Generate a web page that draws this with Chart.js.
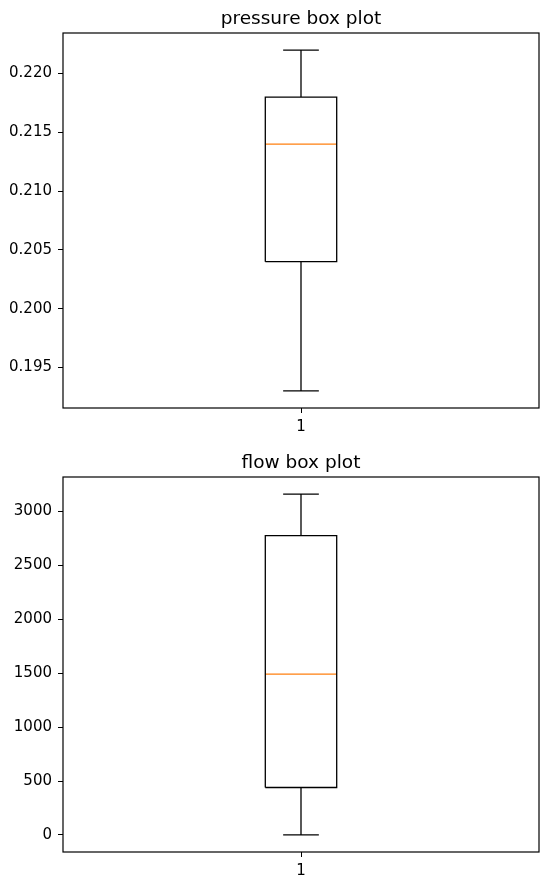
<!DOCTYPE html>
<html>
<head>
<meta charset="utf-8">
<script src="https://cdn.jsdelivr.net/npm/chart.js@4"></script>
<style>
  body { margin: 0; background: #fff; }
  .panel { position: absolute; left: 0; width: 550px; height: 441px; }
</style>
</head>
<body>
<div class="panel" style="top:0"><canvas id="pressureChart" width="550" height="441"></canvas></div>
<div class="panel" style="top:441px"><canvas id="flowChart" width="550" height="441"></canvas></div>
<script>
// box stats: [min whisker, q1, median, q3, max whisker]
const pressureStats = [0.193, 0.204, 0.214, 0.218, 0.222];
const flowStats = [0, 440, 1490, 2775, 3160];
const pressureTicks = [0.195, 0.200, 0.205, 0.210, 0.215, 0.220];
const flowTicks = [0, 500, 1000, 1500, 2000, 2500, 3000];
const xCategories = [1];

const boxWidth = 0.15;
const fontFamily = "'DejaVu Sans', sans-serif";

// frame around the plot area (matplotlib spines) + title centred over the axes
const framePlugin = {
    id: 'frame',
    afterDraw(chart, args, opts) {
        const { ctx, chartArea } = chart;
        ctx.save();
        ctx.strokeStyle = '#000';
        ctx.lineWidth = 1.2;
        ctx.strokeRect(chartArea.left, chartArea.top, chartArea.right - chartArea.left, chartArea.bottom - chartArea.top);
        ctx.fillStyle = '#000';
        ctx.font = '18.5px ' + fontFamily;
        ctx.textAlign = 'center';
        ctx.textBaseline = 'alphabetic';
        ctx.fillText(opts.text, (chartArea.left + chartArea.right) / 2, chartArea.top - opts.gap);
        ctx.restore();
    }
};

function seg(points, color) {
    return {
        data: points.map(p => ({ x: p[0], y: p[1] })),
        showLine: true,
        borderColor: color,
        borderWidth: 1.3,
        pointRadius: 0,
        fill: false
    };
}

function makeChart(id, titleText, stats, yTicks, fmt, topPad) {
    const [lo, q1, med, q3, hi] = stats;
    const x = xCategories[0];
    const h = boxWidth / 2;
    const c = boxWidth / 4;
    const margin = (hi - lo) * 0.05;

    const datasets = [
        seg([[x - h, q1], [x + h, q1], [x + h, q3], [x - h, q3], [x - h, q1]], '#000'),
        seg([[x, q3], [x, hi]], '#000'),
        seg([[x, q1], [x, lo]], '#000'),
        seg([[x - c, hi], [x + c, hi]], '#000'),
        seg([[x - c, lo], [x + c, lo]], '#000'),
        seg([[x - h, med], [x + h, med]], '#ff7f0e')
    ];

    return new Chart(document.getElementById(id).getContext('2d'), {
        type: 'scatter',
        data: { datasets: datasets },
        options: {
            responsive: false,
            animation: false,
            layout: { padding: { left: 0, right: 11, top: topPad, bottom: 0 } },
            plugins: {
                legend: { display: false },
                tooltip: { enabled: false },
                title: { display: false },
                frame: { text: titleText, gap: 9 }
            },
            scales: {
                x: {
                    type: 'linear',
                    min: 0.5,
                    max: 1.5,
                    afterBuildTicks: axis => { axis.ticks = xCategories.map(v => ({ value: v })); },
                    afterFit: axis => { axis.height = 441 - 408 - (topPad - 33); },
                    grid: { display: true, drawOnChartArea: false, drawTicks: true, tickLength: 5, color: '#000' },
                    border: { display: false },
                    ticks: { color: '#000', padding: 5, font: { family: fontFamily, size: 15 } }
                },
                y: {
                    min: lo - margin,
                    max: hi + margin,
                    afterBuildTicks: axis => { axis.ticks = yTicks.map(v => ({ value: v })); },
                    afterFit: axis => { axis.width = 63; },
                    grid: { display: true, drawOnChartArea: false, drawTicks: true, tickLength: 5, color: '#000' },
                    border: { display: false },
                    ticks: { color: '#000', padding: 6, font: { family: fontFamily, size: 15 }, callback: fmt }
                }
            }
        },
        plugins: [framePlugin]
    });
}

makeChart('pressureChart', 'pressure box plot', pressureStats, pressureTicks, v => v.toFixed(3), 33);
makeChart('flowChart', 'flow box plot', flowStats, flowTicks, v => String(v), 36);
</script>
</body>
</html>
